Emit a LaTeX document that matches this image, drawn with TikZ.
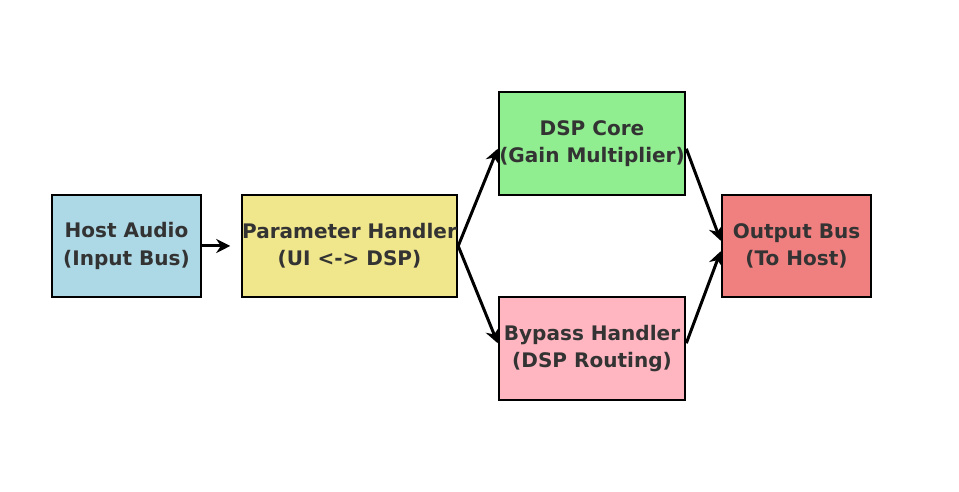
\documentclass[tikz,border=0pt]{standalone}
\usepackage{fontspec}
\setmainfont{DejaVu Sans}
\usetikzlibrary{arrows.meta}

\definecolor{hostblue}{HTML}{ADD8E6}
\definecolor{paramyellow}{HTML}{F0E68C}
\definecolor{coregreen}{HTML}{90EE90}
\definecolor{bypasspink}{HTML}{FFB6C1}
\definecolor{outred}{HTML}{F08080}
\definecolor{labelgray}{HTML}{333333}

\tikzset{
  block/.style={draw, line width=0.75pt, align=center, inner sep=0pt,
    font=\fontsize{5.7}{7.7}\selectfont\bfseries, text=labelgray},
  flow/.style={-{Stealth[length=4pt,width=4pt]}, line width=0.85pt}
}

\begin{document}
\begin{tikzpicture}
  \useasboundingbox (0,0) rectangle (9.59,4.92);

  \node[block, fill=hostblue, minimum width=1.49cm, minimum height=1.02cm] (host) at (1.265,2.46) {Host Audio\\(Input Bus)};
  \node[block, fill=paramyellow, minimum width=1.49cm, minimum height=1.02cm] (param) at (3.495,2.46) {Parameter Handler\\(UI <-> DSP)};
  \node[block, fill=coregreen, minimum width=1.86cm, minimum height=1.03cm] (core) at (5.92,3.485) {DSP Core\\(Gain Multiplier)};
  \node[block, fill=bypasspink, minimum width=1.86cm, minimum height=1.03cm] (bypass) at (5.92,1.435) {Bypass Handler\\(DSP Routing)};
  \node[block, fill=outred, minimum width=1.49cm, minimum height=1.02cm] (out) at (7.965,2.46) {Output Bus\\(To Host)};

  \draw[flow] (host.east) -- ([xshift=-3pt]param.west);
  \draw[flow] (param.east) -- ([yshift=-1.5pt]core.west);
  \draw[flow] (param.east) -- ([yshift=1.5pt]bypass.west);
  \draw[flow] ([yshift=-1.5pt]core.east) -- ([yshift=1.5pt]out.west);
  \draw[flow] ([yshift=1.5pt]bypass.east) -- ([yshift=-1.5pt]out.west);
\end{tikzpicture}
\end{document}
